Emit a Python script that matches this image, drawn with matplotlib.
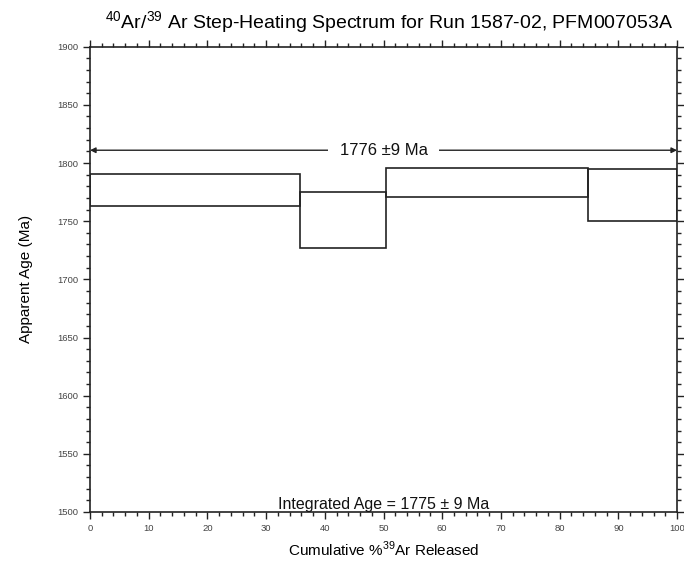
import matplotlib
matplotlib.use("Agg")
import matplotlib.pyplot as plt
from matplotlib.patches import Rectangle
from matplotlib.ticker import MultipleLocator

plt.rcParams['font.family'] = ['Liberation Sans', 'DejaVu Sans']
plt.rcParams['mathtext.fontset'] = 'custom'
plt.rcParams['mathtext.rm'] = 'Liberation Sans'

# step boundaries (cumulative % 39Ar) and age envelopes (Ma)
cum_pct = [0, 35.7, 50.4, 84.8, 100]
age_hi = [1790.5, 1775, 1796, 1795]
age_lo = [1763, 1727, 1770.5, 1750]

plateau_label = "1776 \u00b19 Ma"
plateau_arrow_age = 1811
integrated_label = "Integrated Age = 1775 \u00b1 9 Ma"

ink = '#222222'

fig = plt.figure(figsize=(6.84, 5.62), dpi=100)
ax = fig.add_axes([0.1316, 0.0890, 0.8582, 0.8279])

for i in range(len(age_hi)):
    x0 = cum_pct[i]
    w = cum_pct[i + 1] - cum_pct[i]
    ax.add_patch(Rectangle((x0, age_lo[i]), w, age_hi[i] - age_lo[i],
                           fill=False, edgecolor=ink, linewidth=1.2, zorder=4))

# plateau arrow across the whole spectrum, label sits in a gap of the line
ax.annotate('', xy=(cum_pct[0], plateau_arrow_age), xytext=(cum_pct[-1], plateau_arrow_age),
            arrowprops=dict(arrowstyle='<|-|>', color=ink, lw=1.0, mutation_scale=8,
                            shrinkA=0, shrinkB=0), zorder=2)
ax.text(50, plateau_arrow_age, plateau_label, ha='center', va='center', fontsize=12,
        color='#111111', zorder=3,
        bbox=dict(facecolor='white', edgecolor='none', pad=8))

ax.text(50, 1500, integrated_label, ha='center', va='bottom', fontsize=11.5, color='#111111')

ax.set_xlim(0, 100)
ax.set_ylim(1500, 1900)
ax.xaxis.set_major_locator(MultipleLocator(10))
ax.xaxis.set_minor_locator(MultipleLocator(2))
ax.yaxis.set_major_locator(MultipleLocator(50))
ax.yaxis.set_minor_locator(MultipleLocator(10))
ax.tick_params(which='both', direction='out', top=True, right=True, color=ink, width=1.0)
ax.tick_params(which='major', length=5, labelsize=6.8, labelcolor='#444444')
ax.tick_params(which='minor', length=3)
for s in ax.spines.values():
    s.set_color(ink)
    s.set_linewidth(1.2)

ax.set_xlabel('Cumulative %$^{39}$Ar Released', fontsize=11, labelpad=5)
ax.set_ylabel('Apparent Age (Ma)', fontsize=11, labelpad=17)
ax.set_title('$^{40}$Ar/$^{39}$ Ar Step-Heating Spectrum for Run 1587-02, PFM007053A',
             fontsize=14, pad=13, x=0.51)

fig.savefig('out.png', dpi=100)
